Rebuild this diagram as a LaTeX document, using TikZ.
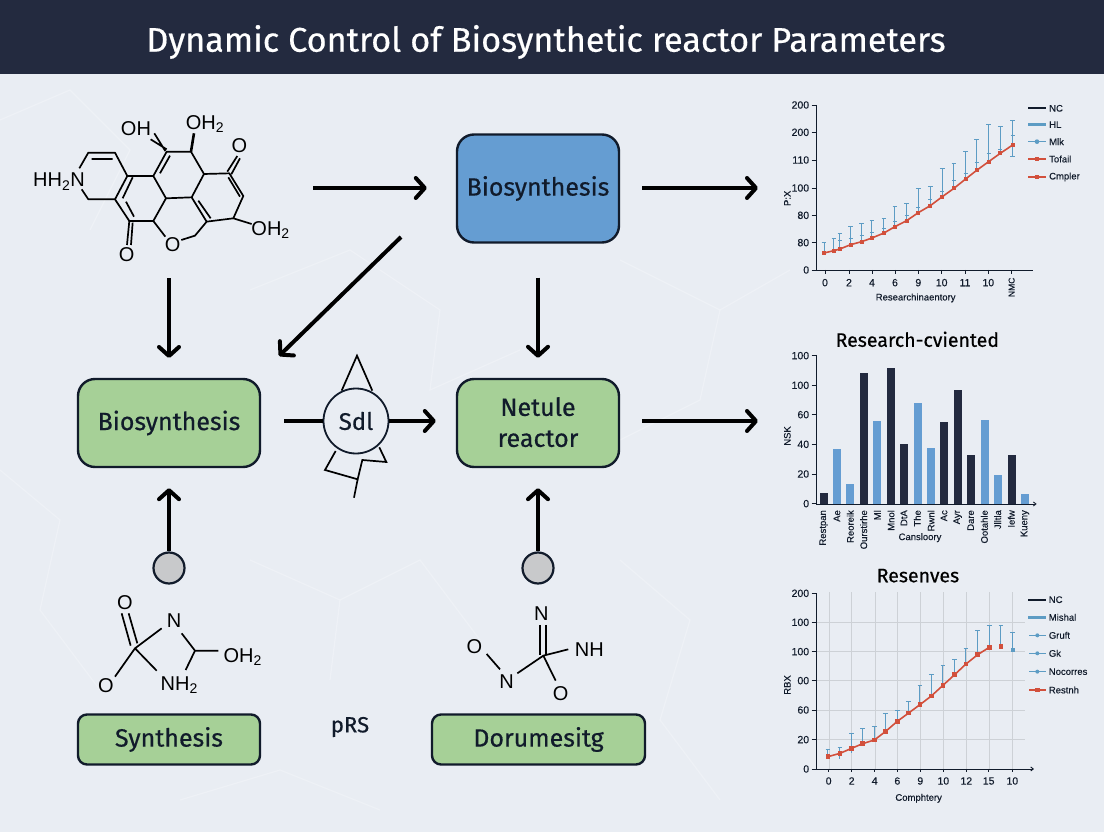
\documentclass[tikz,border=0pt]{standalone}
\usepackage{fontspec}
\setmainfont[FakeBold=0.5]{Fira Sans}
\newfontfamily\chemfont{Liberation Sans}
\newfontfamily\plotfont[FakeBold=0.2]{Liberation Sans}
\usetikzlibrary{arrows.meta,calc}
\definecolor{navy}{HTML}{232A3F}
\definecolor{bgc}{HTML}{E9EDF3}
\definecolor{boxblue}{HTML}{659DD2}
\definecolor{boxgreen}{HTML}{A6D097}
\definecolor{inkc}{HTML}{111B2B}
\definecolor{errblue}{HTML}{5D9CC4}
\definecolor{plotred}{HTML}{D2503C}
\definecolor{gridc}{HTML}{CDD1D6}
\definecolor{dotgrey}{HTML}{C8C9CB}
\definecolor{netc}{HTML}{F6F8FB}
\tikzset{
  flowbox/.style={draw=inkc,line width=2.4pt,rounded corners=17pt,fill=boxgreen,text=inkc,align=center,font=\fontsize{25}{31}\selectfont,inner sep=0pt},
  flowarrow/.style={draw=black,line width=4pt,-{Straight Barb[length=9pt,width=20pt,round,line width=4pt]}},
  bond/.style={draw=black,line width=1.7pt},
  chem/.style={font=\chemfont\fontsize{20}{22}\selectfont,inner sep=0pt,text=black},
  dotnode/.style={circle,draw=inkc,line width=2.2pt,fill=dotgrey,minimum size=31pt,inner sep=0pt},
  axisline/.style={draw=inkc,line width=.9pt},
  ticklab/.style={font=\plotfont\fontsize{10.5}{12}\selectfont,text=inkc,inner sep=0pt},
  axislab/.style={font=\plotfont\fontsize{9.5}{11}\selectfont,text=inkc,inner sep=0pt},
  charttitle/.style={font=\fontsize{19.5}{22}\selectfont,text=black,inner sep=0pt},
  errbar/.style={draw=errblue,line width=1pt},
  redline/.style={draw=plotred,line width=1.6pt},
  redpt/.style={fill=plotred},
  netline/.style={draw=netc,line width=1.2pt,opacity=.4},
}
\begin{document}
\begin{tikzpicture}[x=1pt,y=-1pt]
\useasboundingbox (0,0) rectangle (1104,832);
\fill[bgc] (0,0) rectangle (1104,832);
% faint network
\draw[netline] (0,120) -- (70,90) -- (130,150) -- (90,230);
\draw[netline] (250,290) -- (350,250) -- (440,310) -- (430,390) -- (520,350);
\draw[netline] (620,260) -- (720,310) -- (700,400) -- (620,440);
\draw[netline] (0,470) -- (60,520) -- (40,610) -- (100,690);
\draw[netline] (250,560) -- (340,600) -- (420,560) -- (480,640);
\draw[netline] (620,560) -- (690,620) -- (660,720) -- (720,800);
\draw[netline] (180,800) -- (280,770) -- (380,810);
\draw[netline] (340,600) -- (330,680);
\draw[netline] (720,310) -- (790,270);
% title
\fill[navy] (0,0) rectangle (1104,74);
\node[text=white,font=\fontsize{34.2}{38}\selectfont,inner sep=0pt] (title) at (546,42) {Dynamic Control of Biosynthetic reactor Parameters};
% flow boxes
\node[flowbox,fill=boxblue,minimum width=162pt,minimum height=108pt] (top) at (538,188.5) {Biosynthesis};
\node[flowbox,minimum width=182pt,minimum height=88pt] (left) at (169,423) {Biosynthesis};
\node[flowbox,minimum width=162pt,minimum height=88pt] (mid) at (538,423) {\raisebox{2pt}{Netule}\\\raisebox{2pt}{reactor}};
\node[flowbox,rounded corners=9pt,minimum width=182pt,minimum height=50pt] (syn) at (169,739.5) {Synthesis};
\node[flowbox,rounded corners=9pt,minimum width=213pt,minimum height=50pt] (doc) at (538.5,739.5) {Dorumesitg};
\node[font=\fontsize{22}{24}\selectfont,text=inkc,inner sep=0pt] (prs) at (350,727) {pRS};
% switch
\begin{scope}[shift={(280,340)},x=.3333pt,y=-.3333pt]
\draw[bond] (185,152) -- (231,47) -- (277,152);
\draw[bond] (167,333) -- (135,390) -- (233,418) -- (247,360) -- (319,366) -- (298,322);
\draw[bond] (233,418) -- (222,473);
\end{scope}
\node[circle,draw=inkc,line width=1.8pt,fill=bgc,minimum size=65pt,inner sep=0pt,font=\fontsize{24}{27}\selectfont,text=inkc] (sdl) at (356,421) {Sdl};
% dots
\node[dotnode] (d1) at (169,568) {};
\node[dotnode] (d2) at (538,568) {};
% free ends
\coordinate (molR) at (313,188);
\coordinate (molB) at (169,278);
\coordinate (swL) at (284,421);
\coordinate (c1) at (758,188);
\coordinate (c2) at (758,421);
% arrows
\draw[flowarrow,shorten >=29pt] (molR) -- (molR -| top.west);
\draw[flowarrow,shorten <=22pt] (top.east |- c1) -- (c1);
\draw[flowarrow] (molB) -- (left.north |- 0,358);
\draw[flowarrow,shorten <=34pt,shorten >=20pt] (top.south) -- (mid.north);
\coordinate (diagS) at (401,237);
\coordinate (diagE) at (279,356);
\draw[flowarrow] (diagS) -- (diagE);
\draw[draw=black,line width=4pt] (swL) -- (sdl.west);
\draw[flowarrow,shorten >=20pt] (sdl.east) -- (sdl.east -| mid.west);
\draw[flowarrow,shorten <=22pt] (mid.east |- c2) -- (c2);
\draw[flowarrow,shorten >=20pt] (d1.north) -- (left.south);
\draw[flowarrow,shorten >=20pt] (d2.north) -- (mid.south);
% molecule 1
\begin{scope}[shift={(20,90)},x=.3333pt,y=-.3333pt]
\draw[bond,line join=round]
 (178,235) -- (205,188) -- (285,188) -- (322,258) -- (285,328) -- (205,328) -- (185,298)
 (322,258) -- (400,258) -- (438,325) -- (400,393) -- (328,393) -- (285,328)
 (400,258) -- (440,185) -- (513,185) -- (552,252) -- (515,322) -- (438,325)
 (552,252) -- (628,250) -- (670,318) -- (640,385) -- (560,395) -- (515,322)
 (400,393) -- (436,440) (484,450) -- (525,437) -- (560,395)
 (640,385) -- (695,402);
\draw[bond] (215,207) -- (278,207)
 (338,262) -- (308,325) (318,335) -- (342,380)
 (420,250) -- (450,197)
 (535,332) -- (572,385)
 (625,262) -- (660,320);
\draw[bond] (328,393) -- (321,465) (338,398) -- (333,465);
\draw[bond] (436,183) -- (403,130) (440,178) -- (392,148);
\draw[bond,line width=2.6pt] (513,185) -- (522,130);
\draw[bond] (622,245) -- (652,198) (634,253) -- (660,205);
\node[chem,anchor=east] (m1a) at (195,275) {HH\textsubscript{2}N};
\node[chem] (m1b) at (348,115) {OH};
\node[chem] (m1c) at (555,103) {OH\textsubscript{2}};
\node[chem] (m1d) at (658,167) {O};
\node[chem] (m1e) at (752,420) {OH\textsubscript{2}};
\node[chem] (m1f) at (458,463) {O};
\node[chem] (m1g) at (320,493) {O};
\end{scope}
% molecule 2
\begin{scope}[shift={(80,580)},x=.3333pt,y=-.3333pt]
\draw[bond] (152,197) -- (125,100) (172,190) -- (146,100);
\draw[bond] (165,205) -- (245,145) (165,205) -- (105,290) (165,205) -- (230,272);
\draw[bond] (305,160) -- (345,212) -- (415,212) (345,212) -- (317,270);
\node[chem] (m2a) at (135,68) {O};
\node[chem] (m2b) at (282,123) {N};
\node[chem] (m2c) at (488,230) {OH\textsubscript{2}};
\node[chem] (m2d) at (78,318) {O};
\node[chem] (m2e) at (298,315) {NH\textsubscript{2}};
\end{scope}
% molecule 3
\begin{scope}[shift={(440,590)},x=.3333pt,y=-.3333pt]
\draw[bond] (300,105) -- (300,195) (318,105) -- (318,195);
\draw[bond] (310,197) -- (385,178) (310,197) -- (347,272) (310,197) -- (232,250);
\draw[bond] (180,238) -- (140,192);
\node[chem] (m3a) at (304,70) {N};
\node[chem] (m3b) at (448,178) {NH};
\node[chem] (m3c) at (362,312) {O};
\node[chem] (m3d) at (200,275) {N};
\node[chem] (m3e) at (103,170) {O};
\end{scope}
% chart 1
\begin{scope}[shift={(760,90)},x=.3333pt,y=-.3333pt]
\draw[axisline] (168,45) -- (168,540) -- (820,540);
\foreach \y/\l in {45/200,127/200,210/110,294/100,376/80,458/80,540/0}{
  \draw[axisline] (155,\y) -- (168,\y);
  \node[ticklab,anchor=east] at (148,\y) {\l};}
\foreach \x/\l in {195/0,267/2,336/4,405/6,475/9,545/10,615/11,685/10}{
  \draw[axisline] (\x,540) -- (\x,552);
  \node[ticklab] at (\x,578) {\l};}
\draw[axisline] (755,540) -- (755,552);
\node[axislab,rotate=90,font=\plotfont\fontsize{8.5}{10}\selectfont] at (755,592) {NMC};
\foreach \x/\t/\b in {192/459/489,222/447/482,240/431/477,272/410/464,305/401/455,336/393/444,372/387/429,405/351/410,440/342/392,475/296/368,511/291/347,547/236/320,582/221/295,617/186/267,650/150/241,686/105/215,721/111/190,758/93/200}{
  \draw[errbar] (\x,\t) -- (\x,\b) (\x-7,\t) -- (\x+7,\t);}
\foreach \x/\m in {240/452,272/445,305/437,336/427,372/417,405/395,440/376,475/352,511/330,547/304,582/273,617/252,650/218,686/190,721/178,758/138}{
  \draw[errbar] (\x-6,\m) -- (\x+6,\m);}
\draw[errbar] (751,200) -- (765,200);
\draw[redline] (192,489) -- (222,482) -- (240,477) -- (272,464) -- (305,455) -- (336,444) -- (372,429) -- (405,410) -- (440,392) -- (475,368) -- (511,347) -- (547,320) -- (582,295) -- (617,267) -- (650,241) -- (686,215) -- (721,190) -- (758,165);
\foreach \x/\y in {192/489,222/482,240/477,272/464,305/455,336/444,372/429,405/410,440/392,475/368,511/347,547/320,582/295,617/267,650/241,686/215,721/190,758/165}{
  \fill[redpt] (\x-6,\y-6) rectangle (\x+6,\y+6);}
\draw[draw=inkc,line width=2.2pt] (805,55) -- (858,55);
\draw[errbar,line width=2.4pt] (805,104) -- (858,104);
\draw[errbar] (805,155) -- (858,155); \fill[errblue] (831,155) circle (7);
\draw[redline] (805,207) -- (858,207); \fill[redpt] (825,201) rectangle (837,213);
\draw[redline] (805,261) -- (858,261); \fill[redpt] (825,255) rectangle (837,267);
\foreach \y/\l in {55/NC,104/HL,155/Mlk,207/Tofail,261/Cmpler}{
  \node[axislab,anchor=west] at (867,\y) {\l};}
\node[axislab] at (467,624) {Researchinaentory};
\node[axislab,rotate=90] at (82,325) {P:X};
\end{scope}
% chart 2
\begin{scope}[shift={(760,320)},x=.3333pt,y=-.3333pt]
\node[charttitle] at (472,58) {Research-cviented};
\foreach \l/\r/\t/\c in {180/203/520/navy,219/243/387/boxblue,258/283/493/boxblue,299/324/158/navy,339/364/304/boxblue,381/405/144/navy,421/445/372/navy,461/486/250/boxblue,501/525/383/boxblue,541/565/306/navy,581/605/209/navy,621/646/405/navy,662/687/301/boxblue,702/727/466/boxblue,743/767/406/navy,783/807/522/boxblue}{
  \fill[\c] (\l,\t) rectangle (\r,552);}
\draw[axisline] (168,105) -- (168,552);
\draw[axisline,-{Straight Barb[length=2.5pt,width=4pt]}] (168,552) -- (830,552);
\foreach \y/\l in {107/100,196/100,284/60,373/40,462/20,551/0}{
  \draw[axisline] (155,\y) -- (168,\y);
  \node[ticklab,anchor=east] at (148,\y) {\l};}
\foreach \x/\l in {191/Restpan,231/Ae,271/Reoreik,311/Ourstirhe,352/Ml,393/Mnol,432/DtA,472/The,513/Rwnl,552/Ac,593/Ayr,632/Dare,673/Ootahle,713/Jlltla,754/Iefw,795/Kueny}{
  \node[axislab,rotate=90,anchor=east] at (\x,570) {\l};}
\node[axislab] at (480,653) {Cansloory};
\node[axislab,rotate=90] at (82,348) {NSK};
\end{scope}
% chart 3
\begin{scope}[shift={(760,560)},x=.3333pt,y=-.3333pt]
\node[charttitle] at (474,47) {Resenves};
\foreach \x in {207,275,346,412,481,550,619,688,757}{
  \draw[gridc,line width=.7pt] (\x,97) -- (\x,627);}
\foreach \y in {187,275,362,450,539}{
  \draw[gridc,line width=.7pt] (168,\y) -- (795,\y);}
\draw[axisline] (168,100) -- (168,627);
\draw[axisline,-{Straight Barb[length=2.5pt,width=4pt]}] (168,627) -- (822,627);
\foreach \y/\l in {100/200,187/100,275/100,362/00,450/60,539/20,627/0}{
  \draw[axisline] (155,\y) -- (168,\y);
  \node[ticklab,anchor=east] at (148,\y) {\l};}
\foreach \x/\l in {206/0,275/2,344/4,412/6,481/9,550/10,619/12,686/15,757/10}{
  \draw[axisline] (\x,627) -- (\x,637);
  \node[ticklab] at (\x,663) {\l};}
\foreach \x/\t/\b in {204/568/590,240/563/596,275/522/578,308/505/551,343/501/540,376/461/515,412/451/484,446/426/459,480/378/434,514/345/408,549/316/376,584/298/344,618/265/312,653/213/284,688/198/262,723/197/259,758/218/271}{
  \draw[errbar] (\x,\t) -- (\x,\b) (\x-7,\t) -- (\x+7,\t);}
\fill[errblue] (752,265) rectangle (765,275);
\draw[redline] (204,590) -- (240,580) -- (275,565) -- (308,551) -- (343,540) -- (376,515) -- (412,484) -- (446,459) -- (480,434) -- (514,408) -- (549,376) -- (584,344) -- (618,312) -- (653,284) -- (688,262);
\foreach \x/\y in {204/590,240/580,275/565,308/551,343/540,376/515,412/484,446/459,480/434,514/408,549/376,584/344,618/312,653/284,688/262,723/259}{
  \fill[redpt] (\x-7,\y-7) rectangle (\x+7,\y+7);}
\draw[draw=inkc,line width=2.2pt] (805,119) -- (858,119);
\draw[errbar,line width=2.4pt] (805,172) -- (858,172);
\foreach \y in {226,280,335}{
  \draw[errbar] (808,\y) -- (858,\y); \fill[errblue] (832,\y) circle (6);}
\draw[redline] (808,390) -- (858,390); \fill[redpt] (826,383) rectangle (840,397);
\foreach \y/\l in {119/NC,172/Mishal,226/Gruft,280/Gk,335/Nocorres,390/Restnh}{
  \node[axislab,anchor=west] at (866,\y) {\l};}
\node[axislab] at (476,715) {Comphtery};
\node[axislab,rotate=90] at (82,375) {RBX};
\end{scope}
\end{tikzpicture}
\end{document}
